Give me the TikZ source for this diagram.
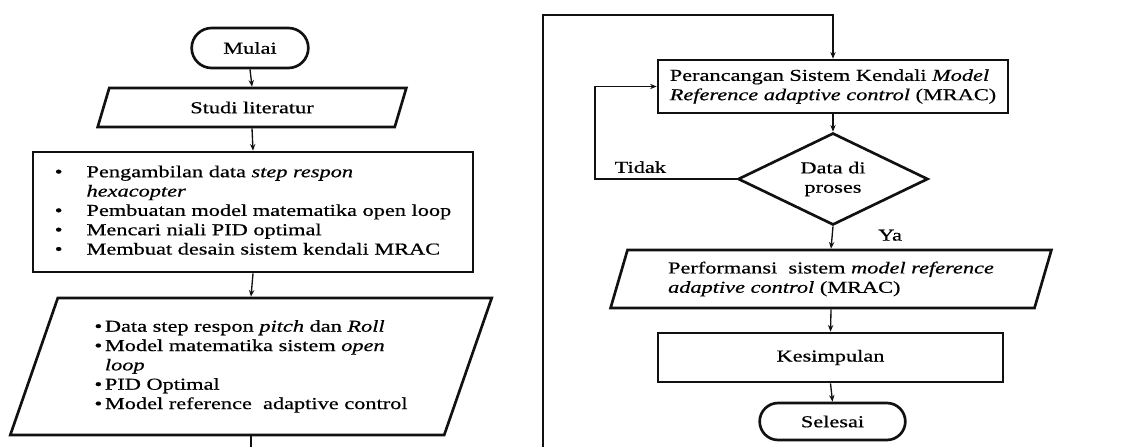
\documentclass[tikz,border=0pt]{standalone}
\usepackage{fontspec}
\setmainfont{Liberation Serif}[FakeStretch=1.34,FakeBold=0.6]
\usetikzlibrary{arrows.meta,shapes.geometric,shapes.misc}
\definecolor{ink}{HTML}{111111}

\begin{document}
\begin{tikzpicture}[
  x=.75pt,y=-.75pt,font=\fontsize{12.5}{14.5}\selectfont,
  box/.style={draw=ink,line width=2pt,align=center,inner sep=2pt},
  terminal/.style={box,rounded rectangle},
  process/.style={box,rectangle},
  data/.style={box,trapezium,trapezium stretches=true},
  decision/.style={box,diamond,aspect=2.07,inner sep=1pt},
  flow/.style={draw=ink,line width=1pt,-{Stealth[length=5pt,width=4pt]}},
  link/.style={draw=ink,line width=1pt},
  label/.style={inner sep=1pt}
]
\path[use as bounding box] (0,0) rectangle (1122,447);

% left column
\node[terminal,minimum width=91.5pt,minimum height=30pt] (start) at (250,48) {Mulai};
\node[data,trapezium left angle=73,trapezium right angle=107,
  minimum width=231.75pt,minimum height=29.25pt] (study) at (252,107.5) {Studi literatur};
\node[process,minimum width=330pt,minimum height=90pt] (tasks) at (253,212) {%
  \begin{tabular}{@{}l@{\hspace{18pt}}l@{}}
  \textbullet & Pengambilan data \textit{step respon}\\
              & \textit{hexacopter}\\
  \textbullet & Pembuatan model matematika open loop\\
  \textbullet & Mencari niali PID optimal\\
  \textbullet & Membuat desain sistem kendali MRAC
  \end{tabular}};
\node[data,trapezium left angle=69,trapezium right angle=111,
  minimum width=361.5pt,minimum height=102.75pt] (outputs) at (251,366.5) {%
  \begin{tabular}{@{}l@{\hspace{2pt}}l@{}}
  \textbullet & Data step respon \textit{pitch} dan \textit{Roll}\\
  \textbullet & Model matematika sistem \textit{open}\\
              & \textit{loop}\\
  \textbullet & PID Optimal\\
  \textbullet & Model reference\ \ adaptive control
  \end{tabular}};
\coordinate (bottomcut) at (0,447);

\draw[flow] (start.south) -- (study.north);
\draw[flow] (study.south) -- (tasks.north);
\draw[flow] (tasks.south) -- (outputs.north);
\draw[link] (outputs.south) -- (outputs.south |- bottomcut);

% right column
\node[process,align=left,minimum width=262.5pt,minimum height=39.75pt] (design) at (833,86.5)
  {Perancangan Sistem Kendali \textit{Model}\\\textit{Reference adaptive control} (MRAC)};
\node[decision,minimum width=142.5pt,minimum height=69pt] (check) at (833,179) {Data di\\proses};
\node[data,align=left,trapezium left angle=71,trapezium right angle=109,
  minimum width=331.5pt,minimum height=43.5pt] (perf) at (831,279)
  {Performansi\ \ sistem \textit{model reference}\\\textit{adaptive control} (MRAC)};
\node[process,minimum width=258.75pt,minimum height=36.75pt] (concl) at (830.5,357.5) {Kesimpulan};
\node[terminal,minimum width=113.25pt,minimum height=27.75pt] (finish) at (832.5,421.5) {Selesai};
\coordinate (loopstart) at (543,447);
\coordinate (looptop) at (543,15);
\coordinate (retry) at (595,179);

\draw[flow] (loopstart) -- (looptop) -| (design.north);
\draw[flow] (design.south) -- (check.north);
\draw[flow] (check.west) -- node[label,above=3pt,pos=.68] {Tidak} (retry) |- (design.west);
\draw[flow] (check.south) -- node[label,right,pos=.4,xshift=33pt] {Ya} (perf.north);
\draw[flow] (perf.south) -- (concl.north);
\draw[flow] (concl.south) -- (finish.north);
\end{tikzpicture}
\end{document}
